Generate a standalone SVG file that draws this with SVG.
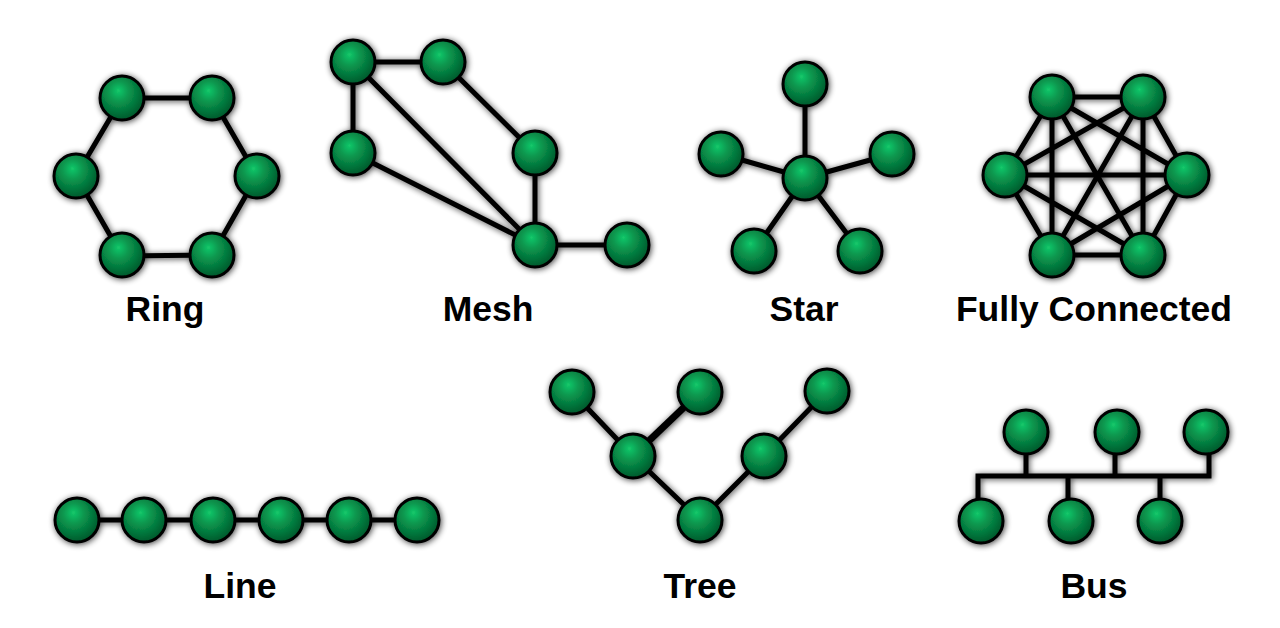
<svg xmlns="http://www.w3.org/2000/svg" width="1280" height="628" viewBox="0 0 1280 628">
<style>
.e{stroke:#000;stroke-width:5;fill:none;stroke-linecap:butt;stroke-linejoin:miter}
.n{fill:url(#g);stroke:#000;stroke-width:3}
.t{font-family:"Liberation Sans",Arial,sans-serif;font-weight:bold;font-size:35.5px;fill:#000;text-anchor:middle}
</style>
<defs>
<radialGradient id="g" cx="0.42" cy="0.38" r="0.62" fx="0.42" fy="0.33">
<stop offset="0" stop-color="#13c86a"/>
<stop offset="0.35" stop-color="#0a9a50"/>
<stop offset="1" stop-color="#005a2c"/>
</radialGradient>
<filter id="sh" x="-10%" y="-10%" width="120%" height="120%">
<feGaussianBlur in="SourceAlpha" stdDeviation="3.2"/>
<feOffset dx="1" dy="1" result="b"/>
<feComponentTransfer><feFuncA type="linear" slope="0.75"/></feComponentTransfer>
<feMerge><feMergeNode/><feMergeNode in="SourceGraphic"/></feMerge>
</filter>
</defs>
<rect width="1280" height="628" fill="#fff"/>
<g filter="url(#sh)">
<g id="connectors">
<path class="e" d="M122,98 L212,98 L257,176 L212,255 L122,256 L76,176 Z"/>
<path class="e" d="M353,62 H443 M353,62 V153 M353,62 L535,245 M353,153 L535,245 M443,62 L535,153 V245 H627"/>
<path class="e" d="M805,178 V84 M805,178 L721,154 M805,178 L892,154 M805,178 L754,251 M805,178 L860,251"/>
<path class="e" d="M1052,97 L1143,97 M1052,97 L1005,175 M1052,97 L1187,175 M1052,97 L1052,255 M1052,97 L1143,255 M1143,97 L1005,175 M1143,97 L1187,175 M1143,97 L1052,255 M1143,97 L1143,255 M1005,175 L1187,175 M1005,175 L1052,255 M1005,175 L1143,255 M1187,175 L1052,255 M1187,175 L1143,255 M1052,255 L1143,255"/>
<path class="e" d="M77,520 H417"/>
<path class="e" d="M572,392 L633,456 L700,520 L764,456 L827,391"/>
<path class="e" style="stroke-width:7" d="M700,392 L633,456"/>
<path class="e" d="M978,500 V476 H1209 V450 M1026,476 V450 M1115,476 V450 M1068,476 V500 M1160,476 V500"/>
</g>
<g id="ring">
<circle class="n" cx="122" cy="98" r="22"/><circle class="n" cx="212" cy="98" r="22"/>
<circle class="n" cx="76" cy="176" r="22"/><circle class="n" cx="257" cy="176" r="22"/>
<circle class="n" cx="122" cy="255" r="22"/><circle class="n" cx="212" cy="255" r="22"/>
</g>
<g id="mesh">
<circle class="n" cx="353" cy="62" r="22"/><circle class="n" cx="443" cy="62" r="22"/>
<circle class="n" cx="353" cy="153" r="22"/><circle class="n" cx="535" cy="153" r="22"/>
<circle class="n" cx="535" cy="245" r="22"/><circle class="n" cx="627" cy="245" r="22"/>
</g>
<g id="star">
<circle class="n" cx="805" cy="84" r="22"/><circle class="n" cx="721" cy="154" r="22"/>
<circle class="n" cx="892" cy="154" r="22"/><circle class="n" cx="805" cy="178" r="22"/>
<circle class="n" cx="754" cy="251" r="22"/><circle class="n" cx="860" cy="251" r="22"/>
</g>
<g id="fully-connected">
<circle class="n" cx="1052" cy="97" r="22"/><circle class="n" cx="1143" cy="97" r="22"/>
<circle class="n" cx="1005" cy="175" r="22"/><circle class="n" cx="1187" cy="175" r="22"/>
<circle class="n" cx="1052" cy="255" r="22"/><circle class="n" cx="1143" cy="255" r="22"/>
</g>
<g id="line">
<circle class="n" cx="77" cy="520" r="22"/><circle class="n" cx="144" cy="520" r="22"/>
<circle class="n" cx="213" cy="520" r="22"/><circle class="n" cx="281" cy="520" r="22"/>
<circle class="n" cx="349" cy="520" r="22"/><circle class="n" cx="417" cy="520" r="22"/>
</g>
<g id="tree">
<circle class="n" cx="572" cy="392" r="22"/><circle class="n" cx="700" cy="392" r="22"/>
<circle class="n" cx="827" cy="391" r="22"/><circle class="n" cx="633" cy="456" r="22"/>
<circle class="n" cx="764" cy="456" r="22"/><circle class="n" cx="700" cy="520" r="22"/>
</g>
<g id="bus">
<circle class="n" cx="1026" cy="432" r="22"/><circle class="n" cx="1117" cy="432" r="22"/>
<circle class="n" cx="1206" cy="432" r="22"/><circle class="n" cx="981" cy="521" r="22"/>
<circle class="n" cx="1071" cy="521" r="22"/><circle class="n" cx="1160" cy="521" r="22"/>
</g>
</g>
<g id="labels">
<text class="t" x="165" y="321">Ring</text>
<text class="t" x="488" y="321">Mesh</text>
<text class="t" x="804" y="321">Star</text>
<text class="t" x="1094" y="321">Fully Connected</text>
<text class="t" x="240" y="598">Line</text>
<text class="t" x="700" y="598">Tree</text>
<text class="t" x="1094" y="598">Bus</text>
</g>
</svg>
